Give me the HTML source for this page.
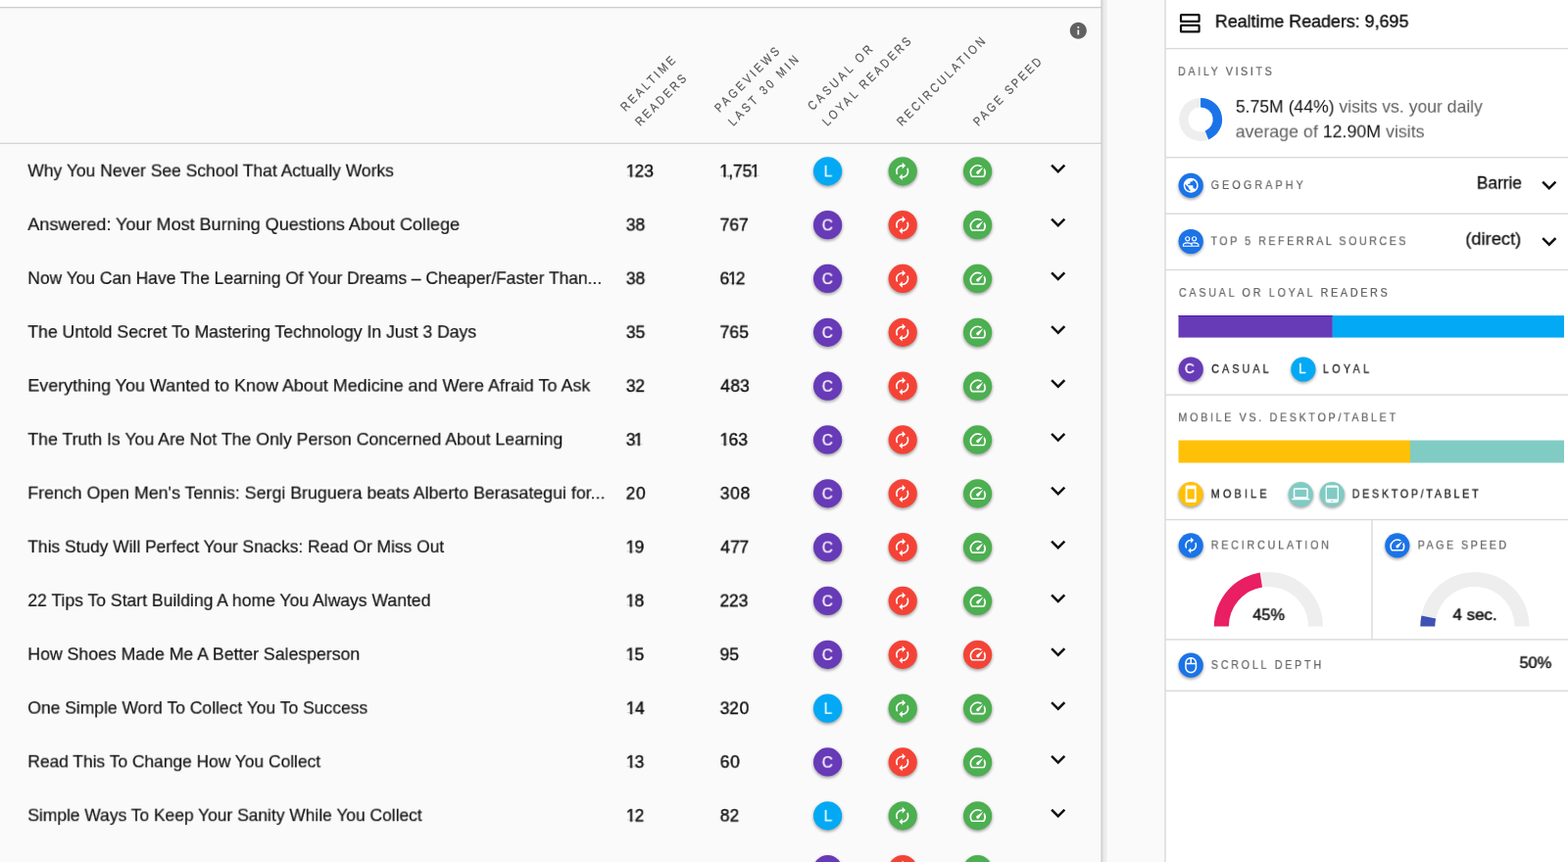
<!DOCTYPE html>
<html lang="en">
<head>
<meta charset="utf-8">
<title>Realtime Readers</title>
<style>
*{box-sizing:border-box}
html,body{margin:0;padding:0}
body{width:1600px;height:880px;overflow:hidden;position:relative;background:#fafafa;font-family:"Liberation Sans", sans-serif;}
#g{position:absolute;left:0;top:0;display:block}
.t{position:absolute;white-space:nowrap;margin:0;will-change:transform}
.rot{position:absolute;white-space:nowrap;color:#585858;-webkit-text-stroke:.18px #585858;transform-origin:0 100%;transform:rotate(-45deg) scaleX(.86)}
</style>
</head>
<body>
<svg id="g" width="1600" height="880" viewBox="0 0 1600 880"><defs><filter id="sh" x="-40%" y="-40%" width="180%" height="200%"><feGaussianBlur stdDeviation="1.4"/></filter><linearGradient id="ls" x1="0" y1="0" x2="1" y2="0"><stop offset="0" stop-color="#000" stop-opacity=".17"/><stop offset=".2" stop-color="#000" stop-opacity=".15"/><stop offset=".38" stop-color="#000" stop-opacity=".065"/><stop offset=".8" stop-color="#000" stop-opacity=".05"/><stop offset="1" stop-color="#000" stop-opacity="0"/></linearGradient></defs>
<rect x="0" y="0" width="1123.5" height="7.6" fill="#fff"/>
<rect x="0" y="6.90" width="1123.5" height="1.4" fill="#cfcfcf"/>
<rect x="0" y="145.75" width="1123.5" height="1.3" fill="#d4d4d4"/>
<circle cx="844.60" cy="176.30" r="14.90" fill="#000" opacity="0.34" filter="url(#sh)"/>
<circle cx="844.60" cy="174.80" r="14.60" fill="#03a9f4"/>
<circle cx="921.20" cy="176.30" r="14.90" fill="#000" opacity="0.34" filter="url(#sh)"/>
<circle cx="921.20" cy="174.80" r="14.60" fill="#4caf50"/>
<g transform="translate(910.70 164.90) scale(0.8333)" fill="#fff"><path d="M12 6v3l4-4-4-4v3c-4.42 0-8 3.58-8 8 0 1.57.46 3.03 1.24 4.26L6.7 14.8c-.45-.83-.7-1.79-.7-2.8 0-3.31 2.69-6 6-6zm6.76 1.74L17.3 9.2c.44.84.7 1.79.7 2.8 0 3.31-2.69 6-6 6v-3l-4 4 4 4v-3c4.42 0 8-3.58 8-8 0-1.57-.46-3.03-1.24-4.26z"/></g>
<circle cx="997.60" cy="176.30" r="14.90" fill="#000" opacity="0.34" filter="url(#sh)"/>
<circle cx="997.60" cy="174.80" r="14.60" fill="#4caf50"/>
<g transform="translate(988.05 164.85) scale(0.8125)" fill="#fff"><path d="M20.38 8.57l-1.23 1.85a8 8 0 0 1-.22 7.58H5.07A8 8 0 0 1 15.58 6.85l1.85-1.23A10 10 0 0 0 3.35 19a2 2 0 0 0 1.72 1h13.85a2 2 0 0 0 1.74-1 10 10 0 0 0-.27-10.44zm-9.79 6.84a2 2 0 0 0 2.83 0l5.66-8.49-8.49 5.66a2 2 0 0 0 0 2.83z"/></g>
<g transform="translate(1064.70 157.10) scale(1.2500)" fill="#111"><path d="M16.59 8.59L12 13.17 7.41 8.59 6 10l6 6 6-6z"/></g>
<circle cx="844.60" cy="231.13" r="14.90" fill="#000" opacity="0.34" filter="url(#sh)"/>
<circle cx="844.60" cy="229.63" r="14.60" fill="#673ab7"/>
<circle cx="921.20" cy="231.13" r="14.90" fill="#000" opacity="0.34" filter="url(#sh)"/>
<circle cx="921.20" cy="229.63" r="14.60" fill="#f44336"/>
<g transform="translate(910.70 219.73) scale(0.8333)" fill="#fff"><path d="M12 6v3l4-4-4-4v3c-4.42 0-8 3.58-8 8 0 1.57.46 3.03 1.24 4.26L6.7 14.8c-.45-.83-.7-1.79-.7-2.8 0-3.31 2.69-6 6-6zm6.76 1.74L17.3 9.2c.44.84.7 1.79.7 2.8 0 3.31-2.69 6-6 6v-3l-4 4 4 4v-3c4.42 0 8-3.58 8-8 0-1.57-.46-3.03-1.24-4.26z"/></g>
<circle cx="997.60" cy="231.13" r="14.90" fill="#000" opacity="0.34" filter="url(#sh)"/>
<circle cx="997.60" cy="229.63" r="14.60" fill="#4caf50"/>
<g transform="translate(988.05 219.68) scale(0.8125)" fill="#fff"><path d="M20.38 8.57l-1.23 1.85a8 8 0 0 1-.22 7.58H5.07A8 8 0 0 1 15.58 6.85l1.85-1.23A10 10 0 0 0 3.35 19a2 2 0 0 0 1.72 1h13.85a2 2 0 0 0 1.74-1 10 10 0 0 0-.27-10.44zm-9.79 6.84a2 2 0 0 0 2.83 0l5.66-8.49-8.49 5.66a2 2 0 0 0 0 2.83z"/></g>
<g transform="translate(1064.70 211.93) scale(1.2500)" fill="#111"><path d="M16.59 8.59L12 13.17 7.41 8.59 6 10l6 6 6-6z"/></g>
<circle cx="844.60" cy="285.97" r="14.90" fill="#000" opacity="0.34" filter="url(#sh)"/>
<circle cx="844.60" cy="284.47" r="14.60" fill="#673ab7"/>
<circle cx="921.20" cy="285.97" r="14.90" fill="#000" opacity="0.34" filter="url(#sh)"/>
<circle cx="921.20" cy="284.47" r="14.60" fill="#f44336"/>
<g transform="translate(910.70 274.57) scale(0.8333)" fill="#fff"><path d="M12 6v3l4-4-4-4v3c-4.42 0-8 3.58-8 8 0 1.57.46 3.03 1.24 4.26L6.7 14.8c-.45-.83-.7-1.79-.7-2.8 0-3.31 2.69-6 6-6zm6.76 1.74L17.3 9.2c.44.84.7 1.79.7 2.8 0 3.31-2.69 6-6 6v-3l-4 4 4 4v-3c4.42 0 8-3.58 8-8 0-1.57-.46-3.03-1.24-4.26z"/></g>
<circle cx="997.60" cy="285.97" r="14.90" fill="#000" opacity="0.34" filter="url(#sh)"/>
<circle cx="997.60" cy="284.47" r="14.60" fill="#4caf50"/>
<g transform="translate(988.05 274.52) scale(0.8125)" fill="#fff"><path d="M20.38 8.57l-1.23 1.85a8 8 0 0 1-.22 7.58H5.07A8 8 0 0 1 15.58 6.85l1.85-1.23A10 10 0 0 0 3.35 19a2 2 0 0 0 1.72 1h13.85a2 2 0 0 0 1.74-1 10 10 0 0 0-.27-10.44zm-9.79 6.84a2 2 0 0 0 2.83 0l5.66-8.49-8.49 5.66a2 2 0 0 0 0 2.83z"/></g>
<g transform="translate(1064.70 266.77) scale(1.2500)" fill="#111"><path d="M16.59 8.59L12 13.17 7.41 8.59 6 10l6 6 6-6z"/></g>
<circle cx="844.60" cy="340.80" r="14.90" fill="#000" opacity="0.34" filter="url(#sh)"/>
<circle cx="844.60" cy="339.30" r="14.60" fill="#673ab7"/>
<circle cx="921.20" cy="340.80" r="14.90" fill="#000" opacity="0.34" filter="url(#sh)"/>
<circle cx="921.20" cy="339.30" r="14.60" fill="#f44336"/>
<g transform="translate(910.70 329.40) scale(0.8333)" fill="#fff"><path d="M12 6v3l4-4-4-4v3c-4.42 0-8 3.58-8 8 0 1.57.46 3.03 1.24 4.26L6.7 14.8c-.45-.83-.7-1.79-.7-2.8 0-3.31 2.69-6 6-6zm6.76 1.74L17.3 9.2c.44.84.7 1.79.7 2.8 0 3.31-2.69 6-6 6v-3l-4 4 4 4v-3c4.42 0 8-3.58 8-8 0-1.57-.46-3.03-1.24-4.26z"/></g>
<circle cx="997.60" cy="340.80" r="14.90" fill="#000" opacity="0.34" filter="url(#sh)"/>
<circle cx="997.60" cy="339.30" r="14.60" fill="#4caf50"/>
<g transform="translate(988.05 329.35) scale(0.8125)" fill="#fff"><path d="M20.38 8.57l-1.23 1.85a8 8 0 0 1-.22 7.58H5.07A8 8 0 0 1 15.58 6.85l1.85-1.23A10 10 0 0 0 3.35 19a2 2 0 0 0 1.72 1h13.85a2 2 0 0 0 1.74-1 10 10 0 0 0-.27-10.44zm-9.79 6.84a2 2 0 0 0 2.83 0l5.66-8.49-8.49 5.66a2 2 0 0 0 0 2.83z"/></g>
<g transform="translate(1064.70 321.60) scale(1.2500)" fill="#111"><path d="M16.59 8.59L12 13.17 7.41 8.59 6 10l6 6 6-6z"/></g>
<circle cx="844.60" cy="395.63" r="14.90" fill="#000" opacity="0.34" filter="url(#sh)"/>
<circle cx="844.60" cy="394.13" r="14.60" fill="#673ab7"/>
<circle cx="921.20" cy="395.63" r="14.90" fill="#000" opacity="0.34" filter="url(#sh)"/>
<circle cx="921.20" cy="394.13" r="14.60" fill="#f44336"/>
<g transform="translate(910.70 384.23) scale(0.8333)" fill="#fff"><path d="M12 6v3l4-4-4-4v3c-4.42 0-8 3.58-8 8 0 1.57.46 3.03 1.24 4.26L6.7 14.8c-.45-.83-.7-1.79-.7-2.8 0-3.31 2.69-6 6-6zm6.76 1.74L17.3 9.2c.44.84.7 1.79.7 2.8 0 3.31-2.69 6-6 6v-3l-4 4 4 4v-3c4.42 0 8-3.58 8-8 0-1.57-.46-3.03-1.24-4.26z"/></g>
<circle cx="997.60" cy="395.63" r="14.90" fill="#000" opacity="0.34" filter="url(#sh)"/>
<circle cx="997.60" cy="394.13" r="14.60" fill="#4caf50"/>
<g transform="translate(988.05 384.18) scale(0.8125)" fill="#fff"><path d="M20.38 8.57l-1.23 1.85a8 8 0 0 1-.22 7.58H5.07A8 8 0 0 1 15.58 6.85l1.85-1.23A10 10 0 0 0 3.35 19a2 2 0 0 0 1.72 1h13.85a2 2 0 0 0 1.74-1 10 10 0 0 0-.27-10.44zm-9.79 6.84a2 2 0 0 0 2.83 0l5.66-8.49-8.49 5.66a2 2 0 0 0 0 2.83z"/></g>
<g transform="translate(1064.70 376.43) scale(1.2500)" fill="#111"><path d="M16.59 8.59L12 13.17 7.41 8.59 6 10l6 6 6-6z"/></g>
<circle cx="844.60" cy="450.47" r="14.90" fill="#000" opacity="0.34" filter="url(#sh)"/>
<circle cx="844.60" cy="448.97" r="14.60" fill="#673ab7"/>
<circle cx="921.20" cy="450.47" r="14.90" fill="#000" opacity="0.34" filter="url(#sh)"/>
<circle cx="921.20" cy="448.97" r="14.60" fill="#f44336"/>
<g transform="translate(910.70 439.07) scale(0.8333)" fill="#fff"><path d="M12 6v3l4-4-4-4v3c-4.42 0-8 3.58-8 8 0 1.57.46 3.03 1.24 4.26L6.7 14.8c-.45-.83-.7-1.79-.7-2.8 0-3.31 2.69-6 6-6zm6.76 1.74L17.3 9.2c.44.84.7 1.79.7 2.8 0 3.31-2.69 6-6 6v-3l-4 4 4 4v-3c4.42 0 8-3.58 8-8 0-1.57-.46-3.03-1.24-4.26z"/></g>
<circle cx="997.60" cy="450.47" r="14.90" fill="#000" opacity="0.34" filter="url(#sh)"/>
<circle cx="997.60" cy="448.97" r="14.60" fill="#4caf50"/>
<g transform="translate(988.05 439.02) scale(0.8125)" fill="#fff"><path d="M20.38 8.57l-1.23 1.85a8 8 0 0 1-.22 7.58H5.07A8 8 0 0 1 15.58 6.85l1.85-1.23A10 10 0 0 0 3.35 19a2 2 0 0 0 1.72 1h13.85a2 2 0 0 0 1.74-1 10 10 0 0 0-.27-10.44zm-9.79 6.84a2 2 0 0 0 2.83 0l5.66-8.49-8.49 5.66a2 2 0 0 0 0 2.83z"/></g>
<g transform="translate(1064.70 431.27) scale(1.2500)" fill="#111"><path d="M16.59 8.59L12 13.17 7.41 8.59 6 10l6 6 6-6z"/></g>
<circle cx="844.60" cy="505.30" r="14.90" fill="#000" opacity="0.34" filter="url(#sh)"/>
<circle cx="844.60" cy="503.80" r="14.60" fill="#673ab7"/>
<circle cx="921.20" cy="505.30" r="14.90" fill="#000" opacity="0.34" filter="url(#sh)"/>
<circle cx="921.20" cy="503.80" r="14.60" fill="#f44336"/>
<g transform="translate(910.70 493.90) scale(0.8333)" fill="#fff"><path d="M12 6v3l4-4-4-4v3c-4.42 0-8 3.58-8 8 0 1.57.46 3.03 1.24 4.26L6.7 14.8c-.45-.83-.7-1.79-.7-2.8 0-3.31 2.69-6 6-6zm6.76 1.74L17.3 9.2c.44.84.7 1.79.7 2.8 0 3.31-2.69 6-6 6v-3l-4 4 4 4v-3c4.42 0 8-3.58 8-8 0-1.57-.46-3.03-1.24-4.26z"/></g>
<circle cx="997.60" cy="505.30" r="14.90" fill="#000" opacity="0.34" filter="url(#sh)"/>
<circle cx="997.60" cy="503.80" r="14.60" fill="#4caf50"/>
<g transform="translate(988.05 493.85) scale(0.8125)" fill="#fff"><path d="M20.38 8.57l-1.23 1.85a8 8 0 0 1-.22 7.58H5.07A8 8 0 0 1 15.58 6.85l1.85-1.23A10 10 0 0 0 3.35 19a2 2 0 0 0 1.72 1h13.85a2 2 0 0 0 1.74-1 10 10 0 0 0-.27-10.44zm-9.79 6.84a2 2 0 0 0 2.83 0l5.66-8.49-8.49 5.66a2 2 0 0 0 0 2.83z"/></g>
<g transform="translate(1064.70 486.10) scale(1.2500)" fill="#111"><path d="M16.59 8.59L12 13.17 7.41 8.59 6 10l6 6 6-6z"/></g>
<circle cx="844.60" cy="560.13" r="14.90" fill="#000" opacity="0.34" filter="url(#sh)"/>
<circle cx="844.60" cy="558.63" r="14.60" fill="#673ab7"/>
<circle cx="921.20" cy="560.13" r="14.90" fill="#000" opacity="0.34" filter="url(#sh)"/>
<circle cx="921.20" cy="558.63" r="14.60" fill="#f44336"/>
<g transform="translate(910.70 548.73) scale(0.8333)" fill="#fff"><path d="M12 6v3l4-4-4-4v3c-4.42 0-8 3.58-8 8 0 1.57.46 3.03 1.24 4.26L6.7 14.8c-.45-.83-.7-1.79-.7-2.8 0-3.31 2.69-6 6-6zm6.76 1.74L17.3 9.2c.44.84.7 1.79.7 2.8 0 3.31-2.69 6-6 6v-3l-4 4 4 4v-3c4.42 0 8-3.58 8-8 0-1.57-.46-3.03-1.24-4.26z"/></g>
<circle cx="997.60" cy="560.13" r="14.90" fill="#000" opacity="0.34" filter="url(#sh)"/>
<circle cx="997.60" cy="558.63" r="14.60" fill="#4caf50"/>
<g transform="translate(988.05 548.68) scale(0.8125)" fill="#fff"><path d="M20.38 8.57l-1.23 1.85a8 8 0 0 1-.22 7.58H5.07A8 8 0 0 1 15.58 6.85l1.85-1.23A10 10 0 0 0 3.35 19a2 2 0 0 0 1.72 1h13.85a2 2 0 0 0 1.74-1 10 10 0 0 0-.27-10.44zm-9.79 6.84a2 2 0 0 0 2.83 0l5.66-8.49-8.49 5.66a2 2 0 0 0 0 2.83z"/></g>
<g transform="translate(1064.70 540.93) scale(1.2500)" fill="#111"><path d="M16.59 8.59L12 13.17 7.41 8.59 6 10l6 6 6-6z"/></g>
<circle cx="844.60" cy="614.97" r="14.90" fill="#000" opacity="0.34" filter="url(#sh)"/>
<circle cx="844.60" cy="613.47" r="14.60" fill="#673ab7"/>
<circle cx="921.20" cy="614.97" r="14.90" fill="#000" opacity="0.34" filter="url(#sh)"/>
<circle cx="921.20" cy="613.47" r="14.60" fill="#f44336"/>
<g transform="translate(910.70 603.57) scale(0.8333)" fill="#fff"><path d="M12 6v3l4-4-4-4v3c-4.42 0-8 3.58-8 8 0 1.57.46 3.03 1.24 4.26L6.7 14.8c-.45-.83-.7-1.79-.7-2.8 0-3.31 2.69-6 6-6zm6.76 1.74L17.3 9.2c.44.84.7 1.79.7 2.8 0 3.31-2.69 6-6 6v-3l-4 4 4 4v-3c4.42 0 8-3.58 8-8 0-1.57-.46-3.03-1.24-4.26z"/></g>
<circle cx="997.60" cy="614.97" r="14.90" fill="#000" opacity="0.34" filter="url(#sh)"/>
<circle cx="997.60" cy="613.47" r="14.60" fill="#4caf50"/>
<g transform="translate(988.05 603.52) scale(0.8125)" fill="#fff"><path d="M20.38 8.57l-1.23 1.85a8 8 0 0 1-.22 7.58H5.07A8 8 0 0 1 15.58 6.85l1.85-1.23A10 10 0 0 0 3.35 19a2 2 0 0 0 1.72 1h13.85a2 2 0 0 0 1.74-1 10 10 0 0 0-.27-10.44zm-9.79 6.84a2 2 0 0 0 2.83 0l5.66-8.49-8.49 5.66a2 2 0 0 0 0 2.83z"/></g>
<g transform="translate(1064.70 595.77) scale(1.2500)" fill="#111"><path d="M16.59 8.59L12 13.17 7.41 8.59 6 10l6 6 6-6z"/></g>
<circle cx="844.60" cy="669.80" r="14.90" fill="#000" opacity="0.34" filter="url(#sh)"/>
<circle cx="844.60" cy="668.30" r="14.60" fill="#673ab7"/>
<circle cx="921.20" cy="669.80" r="14.90" fill="#000" opacity="0.34" filter="url(#sh)"/>
<circle cx="921.20" cy="668.30" r="14.60" fill="#f44336"/>
<g transform="translate(910.70 658.40) scale(0.8333)" fill="#fff"><path d="M12 6v3l4-4-4-4v3c-4.42 0-8 3.58-8 8 0 1.57.46 3.03 1.24 4.26L6.7 14.8c-.45-.83-.7-1.79-.7-2.8 0-3.31 2.69-6 6-6zm6.76 1.74L17.3 9.2c.44.84.7 1.79.7 2.8 0 3.31-2.69 6-6 6v-3l-4 4 4 4v-3c4.42 0 8-3.58 8-8 0-1.57-.46-3.03-1.24-4.26z"/></g>
<circle cx="997.60" cy="669.80" r="14.90" fill="#000" opacity="0.34" filter="url(#sh)"/>
<circle cx="997.60" cy="668.30" r="14.60" fill="#f44336"/>
<g transform="translate(988.05 658.35) scale(0.8125)" fill="#fff"><path d="M20.38 8.57l-1.23 1.85a8 8 0 0 1-.22 7.58H5.07A8 8 0 0 1 15.58 6.85l1.85-1.23A10 10 0 0 0 3.35 19a2 2 0 0 0 1.72 1h13.85a2 2 0 0 0 1.74-1 10 10 0 0 0-.27-10.44zm-9.79 6.84a2 2 0 0 0 2.83 0l5.66-8.49-8.49 5.66a2 2 0 0 0 0 2.83z"/></g>
<g transform="translate(1064.70 650.60) scale(1.2500)" fill="#111"><path d="M16.59 8.59L12 13.17 7.41 8.59 6 10l6 6 6-6z"/></g>
<circle cx="844.60" cy="724.63" r="14.90" fill="#000" opacity="0.34" filter="url(#sh)"/>
<circle cx="844.60" cy="723.13" r="14.60" fill="#03a9f4"/>
<circle cx="921.20" cy="724.63" r="14.90" fill="#000" opacity="0.34" filter="url(#sh)"/>
<circle cx="921.20" cy="723.13" r="14.60" fill="#4caf50"/>
<g transform="translate(910.70 713.23) scale(0.8333)" fill="#fff"><path d="M12 6v3l4-4-4-4v3c-4.42 0-8 3.58-8 8 0 1.57.46 3.03 1.24 4.26L6.7 14.8c-.45-.83-.7-1.79-.7-2.8 0-3.31 2.69-6 6-6zm6.76 1.74L17.3 9.2c.44.84.7 1.79.7 2.8 0 3.31-2.69 6-6 6v-3l-4 4 4 4v-3c4.42 0 8-3.58 8-8 0-1.57-.46-3.03-1.24-4.26z"/></g>
<circle cx="997.60" cy="724.63" r="14.90" fill="#000" opacity="0.34" filter="url(#sh)"/>
<circle cx="997.60" cy="723.13" r="14.60" fill="#4caf50"/>
<g transform="translate(988.05 713.18) scale(0.8125)" fill="#fff"><path d="M20.38 8.57l-1.23 1.85a8 8 0 0 1-.22 7.58H5.07A8 8 0 0 1 15.58 6.85l1.85-1.23A10 10 0 0 0 3.35 19a2 2 0 0 0 1.72 1h13.85a2 2 0 0 0 1.74-1 10 10 0 0 0-.27-10.44zm-9.79 6.84a2 2 0 0 0 2.83 0l5.66-8.49-8.49 5.66a2 2 0 0 0 0 2.83z"/></g>
<g transform="translate(1064.70 705.43) scale(1.2500)" fill="#111"><path d="M16.59 8.59L12 13.17 7.41 8.59 6 10l6 6 6-6z"/></g>
<circle cx="844.60" cy="779.47" r="14.90" fill="#000" opacity="0.34" filter="url(#sh)"/>
<circle cx="844.60" cy="777.97" r="14.60" fill="#673ab7"/>
<circle cx="921.20" cy="779.47" r="14.90" fill="#000" opacity="0.34" filter="url(#sh)"/>
<circle cx="921.20" cy="777.97" r="14.60" fill="#f44336"/>
<g transform="translate(910.70 768.07) scale(0.8333)" fill="#fff"><path d="M12 6v3l4-4-4-4v3c-4.42 0-8 3.58-8 8 0 1.57.46 3.03 1.24 4.26L6.7 14.8c-.45-.83-.7-1.79-.7-2.8 0-3.31 2.69-6 6-6zm6.76 1.74L17.3 9.2c.44.84.7 1.79.7 2.8 0 3.31-2.69 6-6 6v-3l-4 4 4 4v-3c4.42 0 8-3.58 8-8 0-1.57-.46-3.03-1.24-4.26z"/></g>
<circle cx="997.60" cy="779.47" r="14.90" fill="#000" opacity="0.34" filter="url(#sh)"/>
<circle cx="997.60" cy="777.97" r="14.60" fill="#4caf50"/>
<g transform="translate(988.05 768.02) scale(0.8125)" fill="#fff"><path d="M20.38 8.57l-1.23 1.85a8 8 0 0 1-.22 7.58H5.07A8 8 0 0 1 15.58 6.85l1.85-1.23A10 10 0 0 0 3.35 19a2 2 0 0 0 1.72 1h13.85a2 2 0 0 0 1.74-1 10 10 0 0 0-.27-10.44zm-9.79 6.84a2 2 0 0 0 2.83 0l5.66-8.49-8.49 5.66a2 2 0 0 0 0 2.83z"/></g>
<g transform="translate(1064.70 760.27) scale(1.2500)" fill="#111"><path d="M16.59 8.59L12 13.17 7.41 8.59 6 10l6 6 6-6z"/></g>
<circle cx="844.60" cy="834.30" r="14.90" fill="#000" opacity="0.34" filter="url(#sh)"/>
<circle cx="844.60" cy="832.80" r="14.60" fill="#03a9f4"/>
<circle cx="921.20" cy="834.30" r="14.90" fill="#000" opacity="0.34" filter="url(#sh)"/>
<circle cx="921.20" cy="832.80" r="14.60" fill="#4caf50"/>
<g transform="translate(910.70 822.90) scale(0.8333)" fill="#fff"><path d="M12 6v3l4-4-4-4v3c-4.42 0-8 3.58-8 8 0 1.57.46 3.03 1.24 4.26L6.7 14.8c-.45-.83-.7-1.79-.7-2.8 0-3.31 2.69-6 6-6zm6.76 1.74L17.3 9.2c.44.84.7 1.79.7 2.8 0 3.31-2.69 6-6 6v-3l-4 4 4 4v-3c4.42 0 8-3.58 8-8 0-1.57-.46-3.03-1.24-4.26z"/></g>
<circle cx="997.60" cy="834.30" r="14.90" fill="#000" opacity="0.34" filter="url(#sh)"/>
<circle cx="997.60" cy="832.80" r="14.60" fill="#4caf50"/>
<g transform="translate(988.05 822.85) scale(0.8125)" fill="#fff"><path d="M20.38 8.57l-1.23 1.85a8 8 0 0 1-.22 7.58H5.07A8 8 0 0 1 15.58 6.85l1.85-1.23A10 10 0 0 0 3.35 19a2 2 0 0 0 1.72 1h13.85a2 2 0 0 0 1.74-1 10 10 0 0 0-.27-10.44zm-9.79 6.84a2 2 0 0 0 2.83 0l5.66-8.49-8.49 5.66a2 2 0 0 0 0 2.83z"/></g>
<g transform="translate(1064.70 815.10) scale(1.2500)" fill="#111"><path d="M16.59 8.59L12 13.17 7.41 8.59 6 10l6 6 6-6z"/></g>
<circle cx="844.60" cy="889.13" r="14.90" fill="#000" opacity="0.34" filter="url(#sh)"/>
<circle cx="844.60" cy="887.63" r="14.60" fill="#673ab7"/>
<circle cx="921.20" cy="889.13" r="14.90" fill="#000" opacity="0.34" filter="url(#sh)"/>
<circle cx="921.20" cy="887.63" r="14.60" fill="#f44336"/>
<g transform="translate(910.70 877.73) scale(0.8333)" fill="#fff"><path d="M12 6v3l4-4-4-4v3c-4.42 0-8 3.58-8 8 0 1.57.46 3.03 1.24 4.26L6.7 14.8c-.45-.83-.7-1.79-.7-2.8 0-3.31 2.69-6 6-6zm6.76 1.74L17.3 9.2c.44.84.7 1.79.7 2.8 0 3.31-2.69 6-6 6v-3l-4 4 4 4v-3c4.42 0 8-3.58 8-8 0-1.57-.46-3.03-1.24-4.26z"/></g>
<circle cx="997.60" cy="889.13" r="14.90" fill="#000" opacity="0.34" filter="url(#sh)"/>
<circle cx="997.60" cy="887.63" r="14.60" fill="#4caf50"/>
<g transform="translate(988.05 877.68) scale(0.8125)" fill="#fff"><path d="M20.38 8.57l-1.23 1.85a8 8 0 0 1-.22 7.58H5.07A8 8 0 0 1 15.58 6.85l1.85-1.23A10 10 0 0 0 3.35 19a2 2 0 0 0 1.72 1h13.85a2 2 0 0 0 1.74-1 10 10 0 0 0-.27-10.44zm-9.79 6.84a2 2 0 0 0 2.83 0l5.66-8.49-8.49 5.66a2 2 0 0 0 0 2.83z"/></g>
<g transform="translate(1064.70 869.93) scale(1.2500)" fill="#111"><path d="M16.59 8.59L12 13.17 7.41 8.59 6 10l6 6 6-6z"/></g>
<g transform="translate(1090.05 21.05) scale(0.8542)" fill="#616161"><path d="M12 2C6.48 2 2 6.48 2 12s4.48 10 10 10 10-4.48 10-10S17.52 2 12 2zm1 15h-2v-6h2v6zm0-8h-2V7h2v2z"/></g>
<rect x="1123.3" y="0" width="7" height="880" fill="url(#ls)"/>
<rect x="1188.3" y="0" width="412" height="880" fill="#fff"/>
<rect x="1188.2" y="0" width="1.6" height="880" fill="#dcdcdc"/>
<g transform="translate(1203 13)" fill="none" stroke="#111" stroke-width="2.2"><rect x="2" y="2.2" width="18.6" height="6.6" rx="0.4"/><rect x="2" y="12.8" width="18.6" height="6.6" rx="0.4"/></g>
<rect x="1189.0" y="48.90" width="411.0" height="1.4" fill="#dadada"/>
<path d="M1233.20 142.46A22 22 0 1 1 1225.10 100.00L1225.10 109.40A12.6 12.6 0 1 0 1229.74 133.72Z" fill="#eeeeee"/><path d="M1225.10 100.00A22 22 0 0 1 1233.20 142.46L1229.74 133.72A12.6 12.6 0 0 0 1225.10 109.40Z" fill="#1a73e8"/><path d="M1285.70 584.58A55.6 55.6 0 0 1 1350.00 639.50L1335.00 639.50A40.6 40.6 0 0 0 1288.05 599.40Z" fill="#eeeeee"/><path d="M1238.80 639.50A55.6 55.6 0 0 1 1285.70 584.58L1288.05 599.40A40.6 40.6 0 0 0 1253.80 639.50Z" fill="#e91e63"/><path d="M1450.42 628.40A55.6 55.6 0 0 1 1560.50 639.50L1545.50 639.50A40.6 40.6 0 0 0 1465.12 631.39Z" fill="#eeeeee"/><path d="M1449.30 639.50A55.6 55.6 0 0 1 1450.42 628.40L1465.12 631.39A40.6 40.6 0 0 0 1464.30 639.50Z" fill="#3f51b5"/>
<rect x="1189.0" y="160.00" width="411.0" height="1.4" fill="#dadada"/>
<circle cx="1215.20" cy="190.80" r="12.90" fill="#000" opacity="0.34" filter="url(#sh)"/>
<circle cx="1215.20" cy="189.30" r="12.60" fill="#1a73e8"/>
<g transform="translate(1206.25 180.35) scale(0.7458)" fill="#fff"><path d="M12 2C6.48 2 2 6.48 2 12s4.48 10 10 10 10-4.48 10-10S17.52 2 12 2zm-1 17.93c-3.95-.49-7-3.85-7-7.93 0-.62.08-1.21.21-1.79L9 15v1c0 1.1.9 2 2 2v1.93zm6.9-2.54c-.26-.81-1-1.39-1.9-1.39h-1v-3c0-.55-.45-1-1-1H8v-2h2c.55 0 1-.45 1-1V7h2c1.1 0 2-.9 2-2v-.41c2.93 1.19 5 4.06 5 7.41 0 2.08-.8 3.97-2.1 5.39z"/></g>
<g transform="translate(1565.80 174.10) scale(1.2500)" fill="#111"><path d="M16.59 8.59L12 13.17 7.41 8.59 6 10l6 6 6-6z"/></g>
<rect x="1189.0" y="217.50" width="411.0" height="1.4" fill="#dadada"/>
<circle cx="1215.20" cy="248.00" r="12.90" fill="#000" opacity="0.34" filter="url(#sh)"/>
<circle cx="1215.20" cy="246.50" r="12.60" fill="#1a73e8"/>
<g transform="translate(1206.10 237.40) scale(0.7583)" fill="#fff"><path d="M16.5 13c-1.2 0-3.07.34-4.5 1-1.43-.67-3.3-1-4.5-1C5.33 13 1 14.08 1 16.25V19h22v-2.75c0-2.17-4.33-3.25-6.5-3.25zm-4 4.5h-10v-1.25c0-.54 2.56-1.75 5-1.75s5 1.21 5 1.75v1.25zm9 0H14v-1.25c0-.46-.2-.86-.52-1.22.88-.3 1.96-.53 3.02-.53 2.44 0 5 1.21 5 1.75v1.25zM7.5 12c1.93 0 3.5-1.57 3.5-3.5S9.43 5 7.5 5 4 6.57 4 8.5 5.57 12 7.5 12zm0-5.5c1.1 0 2 .9 2 2s-.9 2-2 2-2-.9-2-2 .9-2 2-2zm9 5.5c1.93 0 3.5-1.57 3.5-3.5S18.43 5 16.5 5 13 6.57 13 8.5s1.57 3.5 3.5 3.5zm0-5.5c1.1 0 2 .9 2 2s-.9 2-2 2-2-.9-2-2 .9-2 2-2z"/></g>
<g transform="translate(1565.80 231.50) scale(1.2500)" fill="#111"><path d="M16.59 8.59L12 13.17 7.41 8.59 6 10l6 6 6-6z"/></g>
<rect x="1189.0" y="274.80" width="411.0" height="1.4" fill="#dadada"/>
<rect x="1359.2" y="322.1" width="236.8" height="22.5" fill="#03a9f4"/>
<rect x="1202.5" y="322.1" width="157.1" height="22.5" fill="#673ab7"/>
<rect x="1202.5" y="322.0" width="157.1" height="0.9" fill="#4a12ab"/>
<circle cx="1215.20" cy="378.50" r="12.90" fill="#000" opacity="0.34" filter="url(#sh)"/>
<circle cx="1215.20" cy="377.00" r="12.60" fill="#673ab7"/>
<circle cx="1329.90" cy="378.50" r="12.90" fill="#000" opacity="0.34" filter="url(#sh)"/>
<circle cx="1329.90" cy="377.00" r="12.60" fill="#03a9f4"/>
<rect x="1189.0" y="402.40" width="411.0" height="1.4" fill="#dadada"/>
<rect x="1438.6" y="449.5" width="157.4" height="23.0" fill="#80cbc4"/>
<rect x="1202.5" y="449.5" width="236.5" height="23.0" fill="#ffc107"/>
<circle cx="1215.20" cy="506.10" r="12.90" fill="#000" opacity="0.34" filter="url(#sh)"/>
<circle cx="1215.20" cy="504.60" r="12.60" fill="#ffc107"/>
<g transform="translate(1205.70 494.80) scale(0.7917)" fill="#fff"><path d="M17 1.01L7 1c-1.1 0-2 .9-2 2v18c0 1.1.9 2 2 2h10c1.1 0 2-.9 2-2V3c0-1.1-.9-1.99-2-1.99zM16.6 18.5H7.4V5.5h9.2v13z"/></g>
<circle cx="1327.30" cy="506.10" r="12.90" fill="#000" opacity="0.34" filter="url(#sh)"/>
<circle cx="1327.30" cy="504.60" r="12.60" fill="#80cbc4"/>
<g transform="translate(1318.30 495.30) scale(0.7500)" fill="#fff"><path d="M20 18c1.1 0 1.99-.9 1.99-2L22 6c0-1.1-.9-2-2-2H4c-1.1 0-2 .9-2 2v10c0 1.1.9 2 2 2H0v2h24v-2h-4zM4 6h16v10H4V6z"/></g>
<circle cx="1359.30" cy="506.10" r="12.90" fill="#000" opacity="0.34" filter="url(#sh)"/>
<circle cx="1359.30" cy="504.60" r="12.60" fill="#80cbc4"/>
<g transform="translate(1350.40 495.40) scale(0.7417)" fill="#fff"><path d="M18 0H6C4.34 0 3 1.34 3 3v18c0 1.66 1.34 3 3 3h12c1.66 0 3-1.34 3-3V3c0-1.66-1.34-3-3-3zm-4 22h-4v-1h4v1zm5.25-3H4.75V3h14.5v16z"/></g>
<rect x="1189.0" y="529.80" width="411.0" height="1.4" fill="#dadada"/>
<rect x="1399.30" y="530.5" width="1.4" height="122.39999999999998" fill="#dadada"/>
<circle cx="1215.20" cy="558.30" r="12.90" fill="#000" opacity="0.34" filter="url(#sh)"/>
<circle cx="1215.20" cy="556.80" r="12.60" fill="#1a73e8"/>
<g transform="translate(1206.20 547.80) scale(0.7500)" fill="#fff"><path d="M12 6v3l4-4-4-4v3c-4.42 0-8 3.58-8 8 0 1.57.46 3.03 1.24 4.26L6.7 14.8c-.45-.83-.7-1.79-.7-2.8 0-3.31 2.69-6 6-6zm6.76 1.74L17.3 9.2c.44.84.7 1.79.7 2.8 0 3.31-2.69 6-6 6v-3l-4 4 4 4v-3c4.42 0 8-3.58 8-8 0-1.57-.46-3.03-1.24-4.26z"/></g>
<circle cx="1425.80" cy="558.30" r="12.90" fill="#000" opacity="0.34" filter="url(#sh)"/>
<circle cx="1425.80" cy="556.80" r="12.60" fill="#1a73e8"/>
<g transform="translate(1416.90 547.40) scale(0.7500)" fill="#fff"><path d="M20.38 8.57l-1.23 1.85a8 8 0 0 1-.22 7.58H5.07A8 8 0 0 1 15.58 6.85l1.85-1.23A10 10 0 0 0 3.35 19a2 2 0 0 0 1.72 1h13.85a2 2 0 0 0 1.74-1 10 10 0 0 0-.27-10.44zm-9.79 6.84a2 2 0 0 0 2.83 0l5.66-8.49-8.49 5.66a2 2 0 0 0 0 2.83z"/></g>
<rect x="1189.0" y="652.20" width="411.0" height="1.4" fill="#dadada"/>
<circle cx="1215.20" cy="680.60" r="12.90" fill="#000" opacity="0.34" filter="url(#sh)"/>
<circle cx="1215.20" cy="679.10" r="12.60" fill="#1a73e8"/>
<g transform="translate(1206.20 670.10) scale(0.7500)" fill="#fff"><path d="M20 9c-.04-4.39-3.6-7.93-8-7.93S4.04 4.61 4 9v6c0 4.42 3.58 8 8 8s8-3.58 8-8V9zm-2 0h-5V3.16c2.81.47 4.96 2.9 5 5.84zm-7-5.84V9H6c.04-2.94 2.19-5.37 5-5.84zM18 15c0 3.31-2.69 6-6 6s-6-2.69-6-6v-4h12v4z"/></g>
<rect x="1189.0" y="704.60" width="411.0" height="1.4" fill="#dadada"/>
</svg>
<div class="t" id="r0t" style="left:28px;top:161px;font-size:18.54px;line-height:26px;color:#141414;-webkit-text-stroke:0.21px #141414;transform-origin:0 19px;transform:translate(0.30px,0.20px) scale(0.9438,0.9709);">Why You Never See School That Actually Works</div>
<svg class="t" id="r0a" width="30" height="28" style="left:639px;top:160px;transform-origin:0 20px;transform:translate(0.72px,0.55px) scale(0.9709);overflow:visible"><clipPath id="cr0a"><rect x="-3" y="-2" width="33.91" height="20.24"/><rect x="3.24" y="18.14" width="2.29" height="7.76"/><rect x="8.79" y="18.14" width="8.74" height="7.76"/><rect x="18.68" y="18.14" width="8.74" height="7.76"/></clipPath><text x="-0.95 8.07 17.95" y="20" font-size="18.03" fill="#111" stroke="#111" stroke-width="0.43" clip-path="url(#cr0a)">123</text></svg>
<svg class="t" id="r0b" width="42" height="28" style="left:735px;top:160px;transform-origin:0 20px;transform:translate(0.23px,0.55px) scale(0.9709);overflow:visible"><clipPath id="cr0b"><rect x="-3" y="-2" width="45.76" height="20.24"/><rect x="3.24" y="18.14" width="2.29" height="7.76"/><rect x="7.71" y="18.14" width="6.01" height="7.76"/><rect x="13.84" y="18.14" width="8.74" height="7.76"/><rect x="23.72" y="18.14" width="8.74" height="7.76"/><rect x="35.58" y="18.14" width="2.29" height="7.76"/></clipPath><text x="-0.95 8.21 13.11 23.00 31.40" y="20" font-size="18.03" fill="#111" stroke="#111" stroke-width="0.43" clip-path="url(#cr0b)">1,751</text></svg>
<div class="t" id="r0c" style="left:844px;top:164px;font-size:15.86px;line-height:22px;color:#fff;-webkit-text-stroke:0.23px #fff;transform-origin:50% 16px;transform:translate(calc(-50% + 0.90px),0.40px) scale(0.9709,0.9709);">L</div>
<div class="t" id="r1t" style="left:28px;top:216px;font-size:18.54px;line-height:26px;color:#141414;-webkit-text-stroke:0.21px #141414;transform-origin:0 19px;transform:translate(0.30px,0.03px) scale(0.9724,0.9709);">Answered: Your Most Burning Questions About College</div>
<svg class="t" id="r1a" width="23" height="28" style="left:638px;top:215px;transform-origin:0 20px;transform:translate(0.75px,0.38px) scale(0.9709);overflow:visible"><clipPath id="cr1a"><rect x="-3" y="-2" width="26.09" height="20.24"/><rect x="0.65" y="18.14" width="8.74" height="7.76"/><rect x="10.69" y="18.14" width="8.74" height="7.76"/></clipPath><text x="-0.07 9.97" y="20" font-size="18.03" fill="#111" stroke="#111" stroke-width="0.43" clip-path="url(#cr1a)">38</text></svg>
<svg class="t" id="r1b" width="32" height="28" style="left:734px;top:215px;transform-origin:0 20px;transform:translate(0.85px,0.38px) scale(0.9709);overflow:visible"><clipPath id="cr1b"><rect x="-3" y="-2" width="35.66" height="20.24"/><rect x="0.55" y="18.14" width="8.74" height="7.76"/><rect x="10.54" y="18.14" width="8.74" height="7.76"/><rect x="20.53" y="18.14" width="8.74" height="7.76"/></clipPath><text x="-0.17 9.82 19.81" y="20" font-size="18.03" fill="#111" stroke="#111" stroke-width="0.43" clip-path="url(#cr1b)">767</text></svg>
<div class="t" id="r1c" style="left:844px;top:219px;font-size:15.86px;line-height:22px;color:#fff;-webkit-text-stroke:0.23px #fff;transform-origin:50% 16px;transform:translate(calc(-50% + 0.30px),0.23px) scale(0.9709,0.9709);">C</div>
<div class="t" id="r2t" style="left:28px;top:270px;font-size:18.54px;line-height:26px;color:#141414;-webkit-text-stroke:0.21px #141414;transform-origin:0 19px;transform:translate(0.30px,0.87px) scale(0.9395,0.9709);">Now You Can Have The Learning Of Your Dreams – Cheaper/Faster Than...</div>
<svg class="t" id="r2a" width="23" height="28" style="left:638px;top:270px;transform-origin:0 20px;transform:translate(0.80px,0.22px) scale(0.9709);overflow:visible"><clipPath id="cr2a"><rect x="-3" y="-2" width="26.09" height="20.24"/><rect x="0.65" y="18.14" width="8.74" height="7.76"/><rect x="10.69" y="18.14" width="8.74" height="7.76"/></clipPath><text x="-0.07 9.97" y="20" font-size="18.03" fill="#111" stroke="#111" stroke-width="0.43" clip-path="url(#cr2a)">38</text></svg>
<svg class="t" id="r2b" width="29" height="28" style="left:734px;top:270px;transform-origin:0 20px;transform:translate(0.27px,0.22px) scale(0.9709);overflow:visible"><clipPath id="cr2b"><rect x="-3" y="-2" width="32.88" height="20.24"/><rect x="0.86" y="18.14" width="8.74" height="7.76"/><rect x="12.82" y="18.14" width="2.29" height="7.76"/><rect x="17.65" y="18.14" width="8.74" height="7.76"/></clipPath><text x="0.14 8.63 16.92" y="20" font-size="18.03" fill="#111" stroke="#111" stroke-width="0.43" clip-path="url(#cr2b)">612</text></svg>
<div class="t" id="r2c" style="left:844px;top:274px;font-size:15.86px;line-height:22px;color:#fff;-webkit-text-stroke:0.23px #fff;transform-origin:50% 16px;transform:translate(calc(-50% + 0.30px),0.07px) scale(0.9709,0.9709);">C</div>
<div class="t" id="r3t" style="left:28px;top:325px;font-size:18.54px;line-height:26px;color:#141414;-webkit-text-stroke:0.21px #141414;transform-origin:0 19px;transform:translate(0.30px,0.70px) scale(0.9512,0.9709);">The Untold Secret To Mastering Technology In Just 3 Days</div>
<svg class="t" id="r3a" width="22" height="28" style="left:638px;top:325px;transform-origin:0 20px;transform:translate(0.79px,0.05px) scale(0.9709);overflow:visible"><clipPath id="cr3a"><rect x="-3" y="-2" width="25.98" height="20.24"/><rect x="0.65" y="18.14" width="8.74" height="7.76"/><rect x="10.64" y="18.14" width="8.74" height="7.76"/></clipPath><text x="-0.07 9.92" y="20" font-size="18.03" fill="#111" stroke="#111" stroke-width="0.43" clip-path="url(#cr3a)">35</text></svg>
<svg class="t" id="r3b" width="33" height="28" style="left:734px;top:325px;transform-origin:0 20px;transform:translate(0.83px,0.05px) scale(0.9709);overflow:visible"><clipPath id="cr3b"><rect x="-3" y="-2" width="36.08" height="20.24"/><rect x="0.55" y="18.14" width="8.74" height="7.76"/><rect x="10.54" y="18.14" width="8.74" height="7.76"/><rect x="20.74" y="18.14" width="8.74" height="7.76"/></clipPath><text x="-0.17 9.82 20.01" y="20" font-size="18.03" fill="#111" stroke="#111" stroke-width="0.43" clip-path="url(#cr3b)">765</text></svg>
<div class="t" id="r3c" style="left:844px;top:328px;font-size:15.86px;line-height:22px;color:#fff;-webkit-text-stroke:0.23px #fff;transform-origin:50% 16px;transform:translate(calc(-50% + 0.30px),0.90px) scale(0.9709,0.9709);">C</div>
<div class="t" id="r4t" style="left:28px;top:380px;font-size:18.54px;line-height:26px;color:#141414;-webkit-text-stroke:0.21px #141414;transform-origin:0 19px;transform:translate(0.30px,0.53px) scale(0.9679,0.9709);">Everything You Wanted to Know About Medicine and Were Afraid To Ask</div>
<svg class="t" id="r4a" width="22" height="28" style="left:638px;top:379px;transform-origin:0 20px;transform:translate(0.80px,0.88px) scale(0.9709);overflow:visible"><clipPath id="cr4a"><rect x="-3" y="-2" width="25.78" height="20.24"/><rect x="0.65" y="18.14" width="8.74" height="7.76"/><rect x="10.54" y="18.14" width="8.74" height="7.76"/></clipPath><text x="-0.07 9.82" y="20" font-size="18.03" fill="#111" stroke="#111" stroke-width="0.43" clip-path="url(#cr4a)">32</text></svg>
<svg class="t" id="r4b" width="33" height="28" style="left:734px;top:379px;transform-origin:0 20px;transform:translate(0.93px,0.88px) scale(0.9709);overflow:visible"><clipPath id="cr4b"><rect x="-3" y="-2" width="36.69" height="20.24"/><rect x="1.01" y="18.14" width="8.74" height="7.76"/><rect x="11.41" y="18.14" width="8.74" height="7.76"/><rect x="21.46" y="18.14" width="8.74" height="7.76"/></clipPath><text x="0.29 10.69 20.74" y="20" font-size="18.03" fill="#111" stroke="#111" stroke-width="0.43" clip-path="url(#cr4b)">483</text></svg>
<div class="t" id="r4c" style="left:844px;top:383px;font-size:15.86px;line-height:22px;color:#fff;-webkit-text-stroke:0.23px #fff;transform-origin:50% 16px;transform:translate(calc(-50% + 0.30px),0.73px) scale(0.9709,0.9709);">C</div>
<div class="t" id="r5t" style="left:28px;top:435px;font-size:18.54px;line-height:26px;color:#141414;-webkit-text-stroke:0.21px #141414;transform-origin:0 19px;transform:translate(0.30px,0.37px) scale(0.9556,0.9709);">The Truth Is You Are Not The Only Person Concerned About Learning</div>
<svg class="t" id="r5a" width="19" height="28" style="left:638px;top:434px;transform-origin:0 20px;transform:translate(0.73px,0.72px) scale(0.9709);overflow:visible"><clipPath id="cr5a"><rect x="-3" y="-2" width="22.58" height="20.24"/><rect x="0.65" y="18.14" width="8.74" height="7.76"/><rect x="12.41" y="18.14" width="2.29" height="7.76"/></clipPath><text x="-0.07 8.22" y="20" font-size="18.03" fill="#111" stroke="#111" stroke-width="0.43" clip-path="url(#cr5a)">31</text></svg>
<svg class="t" id="r5b" width="31" height="28" style="left:735px;top:434px;transform-origin:0 20px;transform:translate(0.51px,0.72px) scale(0.9709);overflow:visible"><clipPath id="cr5b"><rect x="-3" y="-2" width="34.33" height="20.24"/><rect x="3.24" y="18.14" width="2.29" height="7.76"/><rect x="8.99" y="18.14" width="8.74" height="7.76"/><rect x="19.09" y="18.14" width="8.74" height="7.76"/></clipPath><text x="-0.95 8.27 18.37" y="20" font-size="18.03" fill="#111" stroke="#111" stroke-width="0.43" clip-path="url(#cr5b)">163</text></svg>
<div class="t" id="r5c" style="left:844px;top:438px;font-size:15.86px;line-height:22px;color:#fff;-webkit-text-stroke:0.23px #fff;transform-origin:50% 16px;transform:translate(calc(-50% + 0.30px),0.57px) scale(0.9709,0.9709);">C</div>
<div class="t" id="r6t" style="left:28px;top:490px;font-size:18.54px;line-height:26px;color:#141414;-webkit-text-stroke:0.21px #141414;transform-origin:0 19px;transform:translate(0.30px,0.20px) scale(0.9594,0.9709);">French Open Men's Tennis: Sergi Bruguera beats Alberto Berasategui for...</div>
<svg class="t" id="r6a" width="24" height="28" style="left:638px;top:489px;transform-origin:0 20px;transform:translate(0.56px,0.55px) scale(0.9709);overflow:visible"><clipPath id="cr6a"><rect x="-3" y="-2" width="27.53" height="20.24"/><rect x="0.65" y="18.14" width="8.74" height="7.76"/><rect x="11.41" y="18.14" width="8.74" height="7.76"/></clipPath><text x="-0.07 10.69" y="20" font-size="18.03" fill="#111" stroke="#111" stroke-width="0.43" clip-path="url(#cr6a)">20</text></svg>
<svg class="t" id="r6b" width="34" height="28" style="left:734px;top:489px;transform-origin:0 20px;transform:translate(0.68px,0.55px) scale(0.9709);overflow:visible"><clipPath id="cr6b"><rect x="-3" y="-2" width="37.72" height="20.24"/><rect x="0.65" y="18.14" width="8.74" height="7.76"/><rect x="11.41" y="18.14" width="8.74" height="7.76"/><rect x="22.33" y="18.14" width="8.74" height="7.76"/></clipPath><text x="-0.07 10.69 21.61" y="20" font-size="18.03" fill="#111" stroke="#111" stroke-width="0.43" clip-path="url(#cr6b)">308</text></svg>
<div class="t" id="r6c" style="left:844px;top:493px;font-size:15.86px;line-height:22px;color:#fff;-webkit-text-stroke:0.23px #fff;transform-origin:50% 16px;transform:translate(calc(-50% + 0.30px),0.40px) scale(0.9709,0.9709);">C</div>
<div class="t" id="r7t" style="left:28px;top:545px;font-size:18.54px;line-height:26px;color:#141414;-webkit-text-stroke:0.21px #141414;transform-origin:0 19px;transform:translate(0.30px,0.03px) scale(0.9375,0.9709);">This Study Will Perfect Your Snacks: Read Or Miss Out</div>
<svg class="t" id="r7a" width="21" height="28" style="left:639px;top:544px;transform-origin:0 20px;transform:translate(0.53px,0.38px) scale(0.9709);overflow:visible"><clipPath id="cr7a"><rect x="-3" y="-2" width="24.23" height="20.24"/><rect x="3.24" y="18.14" width="2.29" height="7.76"/><rect x="8.89" y="18.14" width="8.74" height="7.76"/></clipPath><text x="-0.95 8.17" y="20" font-size="18.03" fill="#111" stroke="#111" stroke-width="0.43" clip-path="url(#cr7a)">19</text></svg>
<svg class="t" id="r7b" width="32" height="28" style="left:734px;top:544px;transform-origin:0 20px;transform:translate(0.94px,0.38px) scale(0.9709);overflow:visible"><clipPath id="cr7b"><rect x="-3" y="-2" width="35.97" height="20.24"/><rect x="1.01" y="18.14" width="8.74" height="7.76"/><rect x="11.16" y="18.14" width="8.74" height="7.76"/><rect x="20.84" y="18.14" width="8.74" height="7.76"/></clipPath><text x="0.29 10.44 20.12" y="20" font-size="18.03" fill="#111" stroke="#111" stroke-width="0.43" clip-path="url(#cr7b)">477</text></svg>
<div class="t" id="r7c" style="left:844px;top:548px;font-size:15.86px;line-height:22px;color:#fff;-webkit-text-stroke:0.23px #fff;transform-origin:50% 16px;transform:translate(calc(-50% + 0.30px),0.23px) scale(0.9709,0.9709);">C</div>
<div class="t" id="r8t" style="left:28px;top:599px;font-size:18.54px;line-height:26px;color:#141414;-webkit-text-stroke:0.21px #141414;transform-origin:0 19px;transform:translate(0.30px,0.87px) scale(0.9478,0.9709);">22 Tips To Start Building A home You Always Wanted</div>
<svg class="t" id="r8a" width="21" height="28" style="left:639px;top:599px;transform-origin:0 20px;transform:translate(0.51px,0.22px) scale(0.9709);overflow:visible"><clipPath id="cr8a"><rect x="-3" y="-2" width="24.33" height="20.24"/><rect x="3.24" y="18.14" width="2.29" height="7.76"/><rect x="8.94" y="18.14" width="8.74" height="7.76"/></clipPath><text x="-0.95 8.22" y="20" font-size="18.03" fill="#111" stroke="#111" stroke-width="0.43" clip-path="url(#cr8a)">18</text></svg>
<svg class="t" id="r8b" width="32" height="28" style="left:734px;top:599px;transform-origin:0 20px;transform:translate(0.44px,0.22px) scale(0.9709);overflow:visible"><clipPath id="cr8b"><rect x="-3" y="-2" width="35.66" height="20.24"/><rect x="0.65" y="18.14" width="8.74" height="7.76"/><rect x="10.54" y="18.14" width="8.74" height="7.76"/><rect x="20.43" y="18.14" width="8.74" height="7.76"/></clipPath><text x="-0.07 9.82 19.71" y="20" font-size="18.03" fill="#111" stroke="#111" stroke-width="0.43" clip-path="url(#cr8b)">223</text></svg>
<div class="t" id="r8c" style="left:844px;top:603px;font-size:15.86px;line-height:22px;color:#fff;-webkit-text-stroke:0.23px #fff;transform-origin:50% 16px;transform:translate(calc(-50% + 0.30px),0.07px) scale(0.9709,0.9709);">C</div>
<div class="t" id="r9t" style="left:28px;top:654px;font-size:18.54px;line-height:26px;color:#141414;-webkit-text-stroke:0.21px #141414;transform-origin:0 19px;transform:translate(0.30px,0.70px) scale(0.9536,0.9709);">How Shoes Made Me A Better Salesperson</div>
<svg class="t" id="r9a" width="21" height="28" style="left:639px;top:654px;transform-origin:0 20px;transform:translate(0.49px,0.05px) scale(0.9709);overflow:visible"><clipPath id="cr9a"><rect x="-3" y="-2" width="24.23" height="20.24"/><rect x="3.24" y="18.14" width="2.29" height="7.76"/><rect x="8.89" y="18.14" width="8.74" height="7.76"/></clipPath><text x="-0.95 8.17" y="20" font-size="18.03" fill="#111" stroke="#111" stroke-width="0.43" clip-path="url(#cr9a)">15</text></svg>
<svg class="t" id="r9b" width="23" height="28" style="left:734px;top:654px;transform-origin:0 20px;transform:translate(0.51px,0.05px) scale(0.9709);overflow:visible"><clipPath id="cr9b"><rect x="-3" y="-2" width="26.19" height="20.24"/><rect x="0.75" y="18.14" width="8.74" height="7.76"/><rect x="10.85" y="18.14" width="8.74" height="7.76"/></clipPath><text x="0.03 10.13" y="20" font-size="18.03" fill="#111" stroke="#111" stroke-width="0.43" clip-path="url(#cr9b)">95</text></svg>
<div class="t" id="r9c" style="left:844px;top:657px;font-size:15.86px;line-height:22px;color:#fff;-webkit-text-stroke:0.23px #fff;transform-origin:50% 16px;transform:translate(calc(-50% + 0.30px),0.90px) scale(0.9709,0.9709);">C</div>
<div class="t" id="r10t" style="left:28px;top:709px;font-size:18.54px;line-height:26px;color:#141414;-webkit-text-stroke:0.21px #141414;transform-origin:0 19px;transform:translate(0.30px,0.53px) scale(0.9431,0.9709);">One Simple Word To Collect You To Success</div>
<svg class="t" id="r10a" width="21" height="28" style="left:639px;top:708px;transform-origin:0 20px;transform:translate(0.78px,0.88px) scale(0.9709);overflow:visible"><clipPath id="cr10a"><rect x="-3" y="-2" width="24.75" height="20.24"/><rect x="3.24" y="18.14" width="2.29" height="7.76"/><rect x="9.15" y="18.14" width="8.74" height="7.76"/></clipPath><text x="-0.95 8.43" y="20" font-size="18.03" fill="#111" stroke="#111" stroke-width="0.43" clip-path="url(#cr10a)">14</text></svg>
<svg class="t" id="r10b" width="34" height="28" style="left:734px;top:708px;transform-origin:0 20px;transform:translate(0.64px,0.88px) scale(0.9709);overflow:visible"><clipPath id="cr10b"><rect x="-3" y="-2" width="37.41" height="20.24"/><rect x="0.65" y="18.14" width="8.74" height="7.76"/><rect x="10.54" y="18.14" width="8.74" height="7.76"/><rect x="21.30" y="18.14" width="8.74" height="7.76"/></clipPath><text x="-0.07 9.82 20.58" y="20" font-size="18.03" fill="#111" stroke="#111" stroke-width="0.43" clip-path="url(#cr10b)">320</text></svg>
<div class="t" id="r10c" style="left:844px;top:712px;font-size:15.86px;line-height:22px;color:#fff;-webkit-text-stroke:0.23px #fff;transform-origin:50% 16px;transform:translate(calc(-50% + 0.90px),0.73px) scale(0.9709,0.9709);">L</div>
<div class="t" id="r11t" style="left:28px;top:764px;font-size:18.54px;line-height:26px;color:#141414;-webkit-text-stroke:0.21px #141414;transform-origin:0 19px;transform:translate(0.30px,0.37px) scale(0.9376,0.9709);">Read This To Change How You Collect</div>
<svg class="t" id="r11a" width="21" height="28" style="left:639px;top:763px;transform-origin:0 20px;transform:translate(0.79px,0.72px) scale(0.9709);overflow:visible"><clipPath id="cr11a"><rect x="-3" y="-2" width="24.03" height="20.24"/><rect x="3.24" y="18.14" width="2.29" height="7.76"/><rect x="8.79" y="18.14" width="8.74" height="7.76"/></clipPath><text x="-0.95 8.07" y="20" font-size="18.03" fill="#111" stroke="#111" stroke-width="0.43" clip-path="url(#cr11a)">13</text></svg>
<svg class="t" id="r11b" width="24" height="28" style="left:734px;top:763px;transform-origin:0 20px;transform:translate(0.44px,0.72px) scale(0.9709);overflow:visible"><clipPath id="cr11b"><rect x="-3" y="-2" width="27.94" height="20.24"/><rect x="0.86" y="18.14" width="8.74" height="7.76"/><rect x="11.83" y="18.14" width="8.74" height="7.76"/></clipPath><text x="0.14 11.11" y="20" font-size="18.03" fill="#111" stroke="#111" stroke-width="0.43" clip-path="url(#cr11b)">60</text></svg>
<div class="t" id="r11c" style="left:844px;top:767px;font-size:15.86px;line-height:22px;color:#fff;-webkit-text-stroke:0.23px #fff;transform-origin:50% 16px;transform:translate(calc(-50% + 0.30px),0.57px) scale(0.9709,0.9709);">C</div>
<div class="t" id="r12t" style="left:28px;top:819px;font-size:18.54px;line-height:26px;color:#141414;-webkit-text-stroke:0.21px #141414;transform-origin:0 19px;transform:translate(0.30px,0.20px) scale(0.9391,0.9709);">Simple Ways To Keep Your Sanity While You Collect</div>
<svg class="t" id="r12a" width="21" height="28" style="left:639px;top:818px;transform-origin:0 20px;transform:translate(0.81px,0.55px) scale(0.9709);overflow:visible"><clipPath id="cr12a"><rect x="-3" y="-2" width="24.03" height="20.24"/><rect x="3.24" y="18.14" width="2.29" height="7.76"/><rect x="8.79" y="18.14" width="8.74" height="7.76"/></clipPath><text x="-0.95 8.07" y="20" font-size="18.03" fill="#111" stroke="#111" stroke-width="0.43" clip-path="url(#cr12a)">12</text></svg>
<svg class="t" id="r12b" width="23" height="28" style="left:734px;top:818px;transform-origin:0 20px;transform:translate(0.76px,0.55px) scale(0.9709);overflow:visible"><clipPath id="cr12b"><rect x="-3" y="-2" width="26.09" height="20.24"/><rect x="0.81" y="18.14" width="8.74" height="7.76"/><rect x="10.85" y="18.14" width="8.74" height="7.76"/></clipPath><text x="0.08 10.13" y="20" font-size="18.03" fill="#111" stroke="#111" stroke-width="0.43" clip-path="url(#cr12b)">82</text></svg>
<div class="t" id="r12c" style="left:844px;top:822px;font-size:15.86px;line-height:22px;color:#fff;-webkit-text-stroke:0.23px #fff;transform-origin:50% 16px;transform:translate(calc(-50% + 0.90px),0.40px) scale(0.9709,0.9709);">L</div>
<div class="rot" id="h1a" style="left:640.84px;top:101.49px;font-size:12.6px;letter-spacing:3.262px;line-height:16px;height:16px">REALTIME</div>
<div class="rot" id="h1b" style="left:656.19px;top:115.73px;font-size:12.6px;letter-spacing:2.982px;line-height:16px;height:16px">READERS</div>
<div class="rot" id="h2a" style="left:737.19px;top:101.53px;font-size:12.6px;letter-spacing:3.392px;line-height:16px;height:16px">PAGEVIEWS</div>
<div class="rot" id="h2b" style="left:750.93px;top:115.58px;font-size:12.6px;letter-spacing:3.524px;line-height:16px;height:16px">LAST 30 MIN</div>
<div class="rot" id="h3a" style="left:831.94px;top:100.20px;font-size:12.6px;letter-spacing:3.685px;line-height:16px;height:16px">CASUAL OR</div>
<div class="rot" id="h3b" style="left:847.18px;top:115.58px;font-size:12.6px;letter-spacing:3.164px;line-height:16px;height:16px">LOYAL READERS</div>
<div class="rot" id="h4" style="left:923.34px;top:115.73px;font-size:12.6px;letter-spacing:3.273px;line-height:16px;height:16px">RECIRCULATION</div>
<div class="rot" id="h5" style="left:1000.54px;top:115.73px;font-size:12.6px;letter-spacing:3.012px;line-height:16px;height:16px">PAGE SPEED</div>
<div class="t" id="hd" style="left:1239px;top:8px;font-size:18.54px;line-height:26px;color:#111;-webkit-text-stroke:0.41px #111;transform-origin:0 19px;transform:translate(0.83px,0.80px) scale(0.9636,0.9709);">Realtime Readers: 9,695</div>
<div class="t" id="dv" style="left:1201px;top:64px;font-size:12.98px;line-height:18px;color:#5e5e5e;letter-spacing:3.090px;-webkit-text-stroke:0.19px #5e5e5e;transform-origin:0 13px;transform:translate(0.92px,0.00px) scale(0.8350,0.9709);">DAILY VISITS</div>
<div class="t" id="d1" style="left:1260px;top:95px;font-size:18.54px;line-height:26px;color:#5e5e5e;transform-origin:0 19px;transform:translate(0.86px,0.80px) scale(0.9483,0.9709);"><span style="color:#111">5.75M (44%)</span> visits vs. your daily</div>
<div class="t" id="d2" style="left:1260px;top:121px;font-size:18.54px;line-height:26px;color:#5e5e5e;transform-origin:0 19px;transform:translate(0.68px,0.30px) scale(0.9603,0.9709);">average of <span style="color:#111">12.90M</span> visits</div>
<div class="t" id="geo" style="left:1235px;top:179px;font-size:12.98px;line-height:18px;color:#5e5e5e;letter-spacing:3.645px;-webkit-text-stroke:0.19px #5e5e5e;transform-origin:0 13px;transform:translate(0.67px,0.95px) scale(0.8350,0.9709);">GEOGRAPHY</div>
<div class="t" id="bar" style="left:1506px;top:174px;font-size:17.92px;line-height:25px;color:#111;-webkit-text-stroke:0.31px #111;transform-origin:0 18px;transform:translate(0.83px,0.60px) scale(0.9654,0.9709);">Barrie</div>
<div class="t" id="ref" style="left:1235px;top:237px;font-size:12.98px;line-height:18px;color:#5e5e5e;letter-spacing:2.926px;-webkit-text-stroke:0.19px #5e5e5e;transform-origin:0 13px;transform:translate(0.45px,0.15px) scale(0.8350,0.9709);">TOP 5 REFERRAL SOURCES</div>
<div class="t" id="dir" style="left:1495px;top:231px;font-size:17.92px;line-height:25px;color:#111;-webkit-text-stroke:0.31px #111;transform-origin:0 18px;transform:translate(0.35px,0.80px) scale(1.0219,0.9709);">(direct)</div>
<div class="t" id="col" style="left:1202px;top:289px;font-size:12.98px;line-height:18px;color:#5e5e5e;letter-spacing:3.193px;-webkit-text-stroke:0.19px #5e5e5e;transform-origin:0 13px;transform:translate(0.88px,0.80px) scale(0.8350,0.9709);">CASUAL OR LOYAL READERS</div>
<div class="t" id="lc" style="left:1213px;top:365px;font-size:14.01px;line-height:20px;color:#fff;-webkit-text-stroke:0.31px #fff;transform-origin:50% 15px;transform:translate(calc(-50% + 0.80px),0.90px) scale(0.9709,0.9709);">C</div>
<div class="t" id="cas" style="left:1236px;top:367px;font-size:12.98px;line-height:18px;color:#222;letter-spacing:3.604px;-webkit-text-stroke:0.31px #222;transform-origin:0 13px;transform:translate(0.15px,0.65px) scale(0.8350,0.9709);">CASUAL</div>
<div class="t" id="ll" style="left:1328px;top:365px;font-size:14.01px;line-height:20px;color:#fff;-webkit-text-stroke:0.31px #fff;transform-origin:50% 15px;transform:translate(calc(-50% + 0.80px),0.90px) scale(0.9709,0.9709);">L</div>
<div class="t" id="loy" style="left:1349px;top:367px;font-size:12.98px;line-height:18px;color:#222;letter-spacing:3.946px;-webkit-text-stroke:0.31px #222;transform-origin:0 13px;transform:translate(0.79px,0.65px) scale(0.8350,0.9709);">LOYAL</div>
<div class="t" id="mvd" style="left:1202px;top:417px;font-size:12.98px;line-height:18px;color:#5e5e5e;letter-spacing:3.127px;-webkit-text-stroke:0.19px #5e5e5e;transform-origin:0 13px;transform:translate(0.35px,0.20px) scale(0.8350,0.9709);">MOBILE VS. DESKTOP/TABLET</div>
<div class="t" id="mob" style="left:1235px;top:495px;font-size:12.98px;line-height:18px;color:#222;letter-spacing:3.849px;-webkit-text-stroke:0.31px #222;transform-origin:0 13px;transform:translate(0.63px,0.25px) scale(0.8350,0.9709);">MOBILE</div>
<div class="t" id="dt" style="left:1379px;top:495px;font-size:12.98px;line-height:18px;color:#222;letter-spacing:3.157px;-webkit-text-stroke:0.31px #222;transform-origin:0 13px;transform:translate(0.67px,0.25px) scale(0.8350,0.9709);">DESKTOP/TABLET</div>
<div class="t" id="rec" style="left:1235px;top:547px;font-size:12.98px;line-height:18px;color:#5e5e5e;letter-spacing:3.272px;-webkit-text-stroke:0.19px #5e5e5e;transform-origin:0 13px;transform:translate(0.69px,0.45px) scale(0.8350,0.9709);">RECIRCULATION</div>
<div class="t" id="ps" style="left:1446px;top:547px;font-size:12.98px;line-height:18px;color:#5e5e5e;letter-spacing:2.869px;-webkit-text-stroke:0.19px #5e5e5e;transform-origin:0 13px;transform:translate(0.66px,0.45px) scale(0.8350,0.9709);">PAGE SPEED</div>
<div class="t" id="g1" style="left:1278px;top:616px;font-size:16.27px;line-height:23px;color:#111;-webkit-text-stroke:0.46px #111;transform-origin:0 17px;transform:translate(0.31px,0.00px) scale(1.0026,0.9709);">45%</div>
<div class="t" id="g2" style="left:1482px;top:616px;font-size:16.27px;line-height:23px;color:#111;-webkit-text-stroke:0.46px #111;transform-origin:0 17px;transform:translate(0.43px,0.00px) scale(1.0425,0.9709);">4 sec.</div>
<div class="t" id="sd" style="left:1235px;top:669px;font-size:12.98px;line-height:18px;color:#5e5e5e;letter-spacing:3.230px;-webkit-text-stroke:0.19px #5e5e5e;transform-origin:0 13px;transform:translate(0.76px,0.75px) scale(0.8350,0.9709);">SCROLL DEPTH</div>
<div class="t" id="fifty" style="left:1550px;top:665px;font-size:16.27px;line-height:23px;color:#111;-webkit-text-stroke:0.46px #111;transform-origin:0 17px;transform:translate(0.49px,0.00px) scale(1.0053,0.9709);">50%</div>
</body>
</html>
